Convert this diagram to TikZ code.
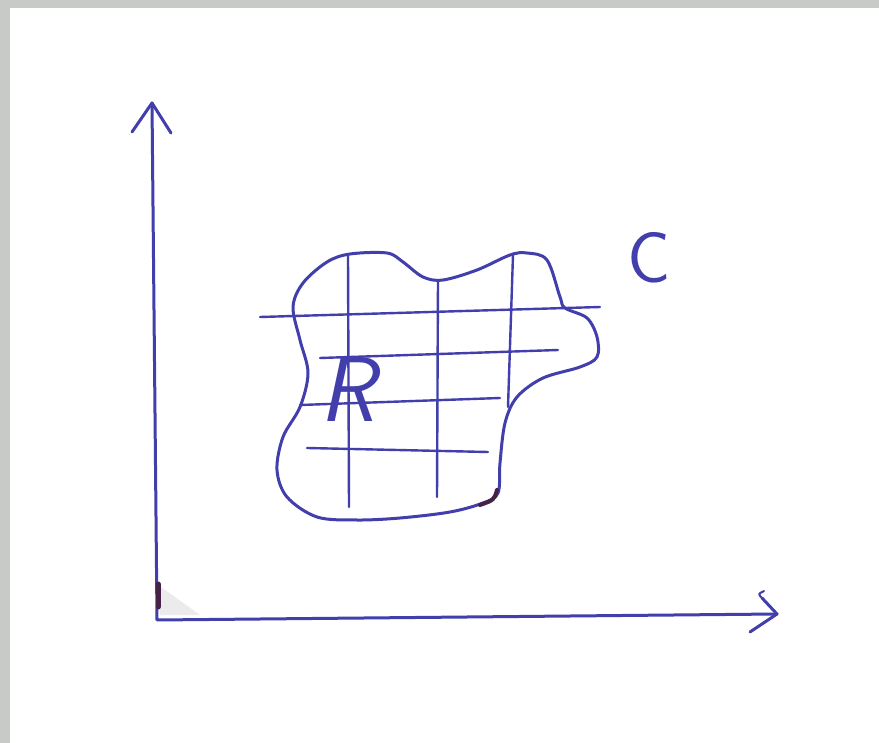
\documentclass[tikz,border=0pt]{standalone}
\usepackage{fontspec}
\definecolor{ink}{RGB}{66,62,172}
\definecolor{darkink}{RGB}{70,35,70}
\definecolor{scanborder}{RGB}{200,202,200}
\tikzset{
  pen/.style={draw=ink, line width=3pt, line cap=round, line join=round},
  gridpen/.style={draw=ink, line width=2.4pt, line cap=round},
  blot/.style={draw=darkink, line width=5pt, line cap=round},
  letter/.style={text=ink, inner sep=0pt, font=\sffamily}
}
\begin{document}
\begin{tikzpicture}[x=1pt, y=-1pt]
  % page and scan border
  \fill[scanborder] (0,0) rectangle (879,743);
  \fill[white] (10,8) rectangle (879,743);
  \useasboundingbox (0,0) rectangle (879,743);

  % axes
  \coordinate (O) at (157,620);
  \coordinate (Ytip) at (152,103);
  \coordinate (Xtip) at (777,614);
  \coordinate (Yl) at (132,132);
  \coordinate (Yr) at (171,133);
  \coordinate (Xu) at (762,598);
  \coordinate (Xd) at (750,632);
  \draw[pen] (Ytip) -- (O) -- (Xtip);
  \draw[pen] (Yl) -- (Ytip) -- (Yr);
  \draw[pen] (Xu) -- (Xtip) -- (Xd);
  \draw[pen, line width=2pt] (Xu) .. controls (758,594) .. (764,591);
  % ink blot near origin
  \fill[gray!25, opacity=0.6] (158,585) -- (200,615) -- (160,615) -- cycle;
  \draw[blot] (158,584) -- (158,607);

  % region R with boundary C
  \draw[pen] plot[smooth cycle, tension=0.55] coordinates {
    (350,254) (387,253) (403,262) (423,277) (443,280) (477,270) (510,255)
    (527,253) (547,260) (560,297) (565,308) (587,318) (597,337) (597,357)
    (580,367) (543,378) (517,397) (505,423) (500,463) (498,493) (483,503)
    (450,512) (400,518) (357,520) (317,517) (287,497) (277,470) (283,437)
    (300,407) (308,373) (300,340) (293,307) (303,283) (327,262)};
  \draw[blot, line width=4pt] (497,490) .. controls (494,500) .. (480,505);

  % grid
  \coordinate (v1t) at (348,255); \coordinate (v1b) at (349,507);
  \coordinate (v2t) at (438,280); \coordinate (v2b) at (437,497);
  \coordinate (v3t) at (513,255); \coordinate (v3b) at (508,407);
  \coordinate (h1l) at (260,317); \coordinate (h1r) at (600,307);
  \coordinate (h2l) at (320,358); \coordinate (h2r) at (558,350);
  \coordinate (h3l) at (300,405); \coordinate (h3r) at (500,398);
  \coordinate (h4l) at (307,448); \coordinate (h4r) at (488,452);
  \draw[gridpen] (v1t) -- (v1b);
  \draw[gridpen] (v2t) -- (v2b);
  \draw[gridpen] (v3t) -- (v3b);
  \draw[gridpen] (h1l) -- (h1r);
  \draw[gridpen] (h2l) -- (h2r);
  \draw[gridpen] (h3l) -- (h3r);
  \draw[gridpen] (h4l) -- (h4r);

  % labels
  \node[letter, font=\sffamily\slshape\fontsize{92}{92}\selectfont] (R) at (347,390) {R};
  \node[letter, font=\sffamily\fontsize{72}{72}\selectfont] (C) at (649,258) {C};
\end{tikzpicture}
\end{document}
